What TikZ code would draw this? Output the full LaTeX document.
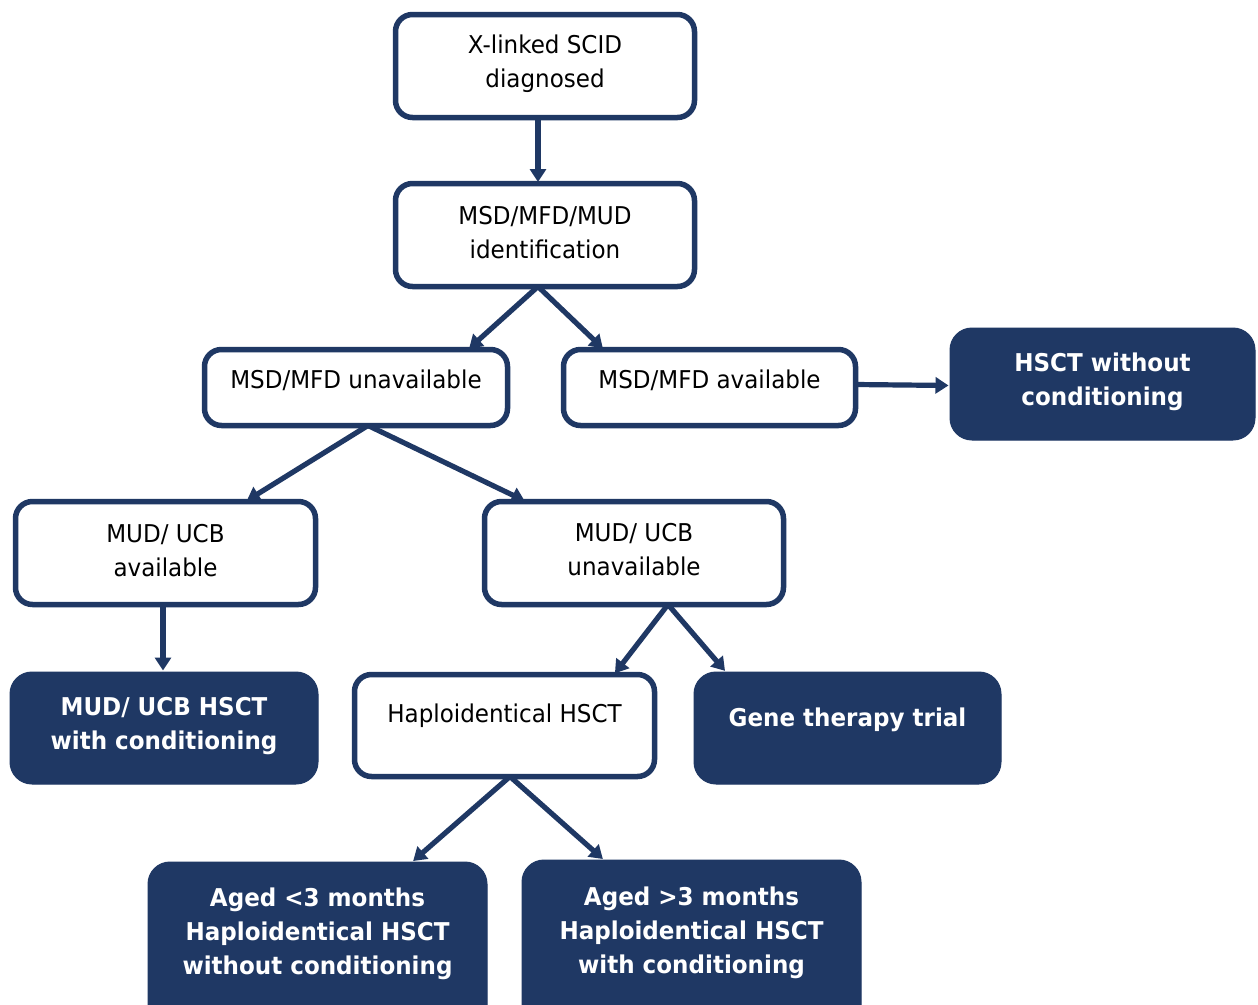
\documentclass[tikz,border=0pt]{standalone}
\usepackage{fontspec}
\setmainfont{DejaVu Sans}[FakeStretch=0.94]
\usetikzlibrary{arrows.meta,calc}
\definecolor{navy}{RGB}{31,56,100}
\tikzset{
  outline/.style={draw=navy, line width=5.5pt, fill=white, rounded corners=17pt,
    inner sep=0pt, outer sep=0pt},
  filledbox/.style={fill=navy, draw=navy, line width=1pt, rounded corners=22pt,
    inner sep=0pt, outer sep=0pt},
  lbl/.style={align=center, font=\fontsize{24.5}{34}\selectfont, text=black, inner sep=0pt},
  blbl/.style={align=center, font=\fontsize{24.5}{34}\selectfont\bfseries, text=white, inner sep=0pt},
  link/.style={draw=navy, line width=5.2pt, shorten >=1.5pt,
    -{Triangle[length=13pt,width=16pt]}},
}
\begin{document}
\begin{tikzpicture}[x=1pt,y=-1pt]
  \path[use as bounding box, fill=white] (0,0) rectangle (1258,1004);
  \clip (0,0) rectangle (1258,1004);

  % outlined decision boxes
  \node[outline, minimum width=299pt, minimum height=103pt] (diag)  at (545,66)    {};
  \node[outline, minimum width=299pt, minimum height=103pt] (ident) at (545,235)   {};
  \node[outline, minimum width=303pt, minimum height=76pt]  (unav)  at (356,387.5) {};
  \node[outline, minimum width=292pt, minimum height=76pt]  (avail) at (709.5,387.5){};
  \node[outline, minimum width=300pt, minimum height=103pt] (mudav) at (165.5,553) {};
  \node[outline, minimum width=299pt, minimum height=103pt] (mudun) at (634,553)   {};
  \node[outline, minimum width=300pt, minimum height=102pt] (haplo) at (504.5,725.5){};

  % filled outcome boxes
  \node[filledbox, minimum width=305pt, minimum height=112pt] (hsct)    at (1102.5,384) {};
  \node[filledbox, minimum width=308pt, minimum height=112pt] (mudhsct) at (164,728)    {};
  \node[filledbox, minimum width=307pt, minimum height=112pt] (gene)    at (847.5,728)  {};
  \node[filledbox, minimum width=339pt, minimum height=170pt] (young)   at (317.5,947)  {};
  \node[filledbox, minimum width=339pt, minimum height=170pt] (old)     at (691.5,945)  {};

  % labels
  \node[lbl]  (diagT)    at (545,64)    {X-linked SCID\\diagnosed};
  \node[lbl]  (identT)   at (545,233)   {MSD/MFD/MUD\\identification};
  \node[lbl]  (unavT)    at (356,380)   {MSD/MFD unavailable};
  \node[lbl]  (availT)   at (709.5,380) {MSD/MFD available};
  \node[lbl]  (mudavT)   at (165.5,551) {MUD/ UCB\\available};
  \node[lbl]  (mudunT)   at (634,550)   {MUD/ UCB\\unavailable};
  \node[lbl]  (haploT)   at (504.5,716) {Haploidentical HSCT};
  \node[blbl] (hsctT)    at (1102.5,382){HSCT without\\conditioning};
  \node[blbl] (mudhsctT) at (164,726)   {MUD/ UCB HSCT\\with conditioning};
  \node[blbl] (geneT)    at (847.5,720) {Gene therapy trial};
  \node[blbl] (youngT)   at (317.5,934) {Aged <3 months\\Haploidentical HSCT\\without conditioning};
  \node[blbl] (oldT)     at (691.5,933) {Aged >3 months\\Haploidentical HSCT\\with conditioning};

  % connectors
  \draw[link] ($(diag.south)+(-7,0)$)  -- ($(ident.north)+(-7,0)$);
  \draw[link] ($(ident.south)+(-7,0)$) -- ($(unav.north)+(112,0)$);
  \draw[link] ($(ident.south)+(-7,0)$) -- ($(avail.north)+(-105.5,0)$);
  \draw[link] ($(avail.east)+(0,-3)$)  -- ($(hsct.west)+(0,1.5)$);
  \draw[link] ($(unav.south)+(12,0)$)  -- ($(mudav.north)+(80,0)$);
  \draw[link] ($(unav.south)+(12,0)$)  -- ($(mudun.north)+(-108,0)$);
  \draw[link] ($(mudav.south)+(-2.5,0)$) -- ($(mudhsct.north)+(-1,0)$);
  \draw[link] ($(mudun.south)+(34,0)$) -- ($(haplo.north)+(109.5,0)$);
  \draw[link] ($(mudun.south)+(34,0)$) -- ($(gene.north)+(-121.5,0)$);
  \draw[link] ($(haplo.south)+(5.5,0)$) -- ($(young.north)+(94.5,0)$);
  \draw[link] ($(haplo.south)+(5.5,0)$) -- ($(old.north)+(-87.5,0)$);
\end{tikzpicture}
\end{document}
